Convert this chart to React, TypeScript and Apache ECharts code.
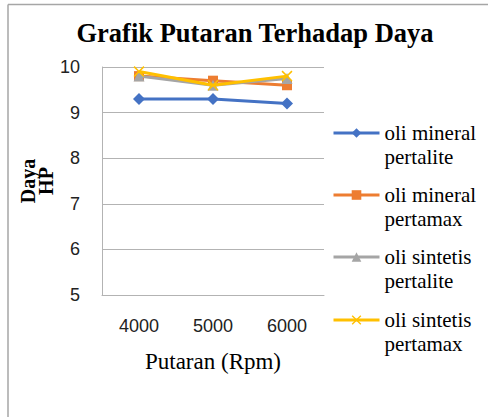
import React, { useEffect, useRef } from "react";
import * as echarts from "echarts";

const categories = ["4000", "5000", "6000"];
const seriesNames = [
  "oli mineral pertalite",
  "oli mineral pertamax",
  "oli sintetis pertalite",
  "oli sintetis pertamax",
];
const legendLines = [
  ["oli mineral", "pertalite"],
  ["oli mineral", "pertamax"],
  ["oli sintetis", "pertalite"],
  ["oli sintetis", "pertamax"],
];
const mineralPertalite = [9.3, 9.3, 9.2];
const mineralPertamax = [9.8, 9.7, 9.6];
const sintetisPertalite = [9.8, 9.6, 9.75];
const sintetisPertamax = [9.9, 9.6, 9.8];
const colors = ["#4472C4", "#ED7D31", "#A5A5A5", "#FFC000"];
const symbols = [
  "diamond",
  "rect",
  "triangle",
  "path://M1,0L5,4L9,0L10,1L6,5L10,9L9,10L5,6L1,10L0,9L4,5L0,1Z",
];
const symbolSizes: any[] = [[12, 12], 10, 11, 11];
const legendIconY = [133, 195, 257, 320];

export default function App() {
  const ref = useRef<HTMLDivElement>(null);
  useEffect(() => {
    if (!ref.current) return;
    const chart = echarts.init(ref.current, undefined, { renderer: "svg" });
    const datasets = [mineralPertalite, mineralPertamax, sintetisPertalite, sintetisPertamax];
    const serif = "Liberation Serif";
    const sans = "Liberation Sans";
    chart.setOption({
      animation: false,
      backgroundColor: "#ffffff",
      textStyle: { fontFamily: serif },
      title: {
        text: "Grafik Putaran Terhadap Daya",
        left: 255,
        top: 19,
        textAlign: "center",
        padding: 0,
        textStyle: { fontFamily: serif, fontWeight: "bold", fontSize: 26.5, color: "#000" },
      },
      graphic: [
        { type: "line", shape: { x1: 8, y1: 4.5, x2: 488, y2: 4.5 }, style: { stroke: "#a6a6a6", lineWidth: 1.5 } },
        { type: "line", shape: { x1: 8, y1: 4.5, x2: 8, y2: 417 }, style: { stroke: "#a6a6a6", lineWidth: 1.5 } },
      ],
      legend: seriesNames.map((n, i) => ({
        data: [n],
        orient: "vertical",
        left: 332,
        top: legendIconY[i] - 36,
        padding: 0,
        itemWidth: 46,
        itemHeight: 12,
        itemGap: 0,
        lineStyle: { width: 3 },
        formatter: () =>
          "{t| }\n{t|" + legendLines[i][0] + "}\n{t|" + legendLines[i][1] + "}",
        textStyle: {
          fontFamily: serif,
          fontSize: 21,
          lineHeight: 24,
          color: "#000",
          rich: {
            t: { fontFamily: serif, fontSize: 21, lineHeight: 24, color: "#000" },
          },
        },
      })),
      grid: { left: 102, right: 164, top: 67, bottom: 122 },
      xAxis: {
        type: "category",
        data: categories,
        boundaryGap: true,
        name: "Putaran (Rpm)",
        nameLocation: "middle",
        nameGap: 55,
        nameTextStyle: { fontFamily: serif, fontSize: 23, color: "#000" },
        axisLine: { lineStyle: { color: "#b3b3b3", width: 1 } },
        axisTick: { show: false },
        axisLabel: { margin: 22, fontFamily: sans, fontSize: 18, color: "#222" },
      },
      yAxis: {
        type: "value",
        min: 5,
        max: 10,
        interval: 1,
        name: "Daya\nHP",
        nameLocation: "middle",
        nameRotate: 90,
        nameGap: 47,
        nameTextStyle: { fontFamily: serif, fontWeight: "bold", fontSize: 20, lineHeight: 18, color: "#000" },
        axisLine: { show: true, lineStyle: { color: "#b3b3b3", width: 1 } },
        axisTick: { show: false },
        splitLine: { lineStyle: { color: "#b3b3b3", width: 1 } },
        axisLabel: { margin: 22, fontFamily: sans, fontSize: 18, color: "#222" },
      },
      series: seriesNames.map((n, i) => ({
        name: n,
        type: "line",
        data: datasets[i],
        symbol: symbols[i],
        symbolSize: symbolSizes[i],
        showAllSymbol: true,
        lineStyle: { color: colors[i], width: 3 },
        itemStyle: { color: colors[i], borderColor: colors[i], borderWidth: 0 },
        z: 2 + i,
      })),
    });
    return () => chart.dispose();
  }, []);
  return (
    <div
      ref={ref}
      style={{ position: "absolute", left: 0, top: 0, width: 488, height: 417 }}
    />
  );
}
